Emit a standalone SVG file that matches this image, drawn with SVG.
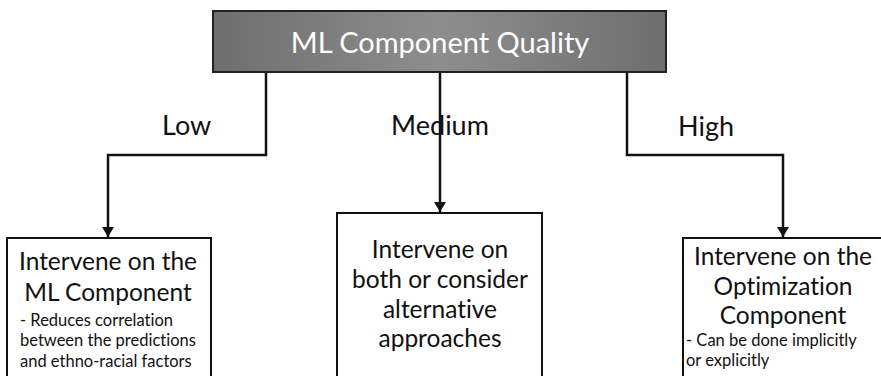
<svg xmlns="http://www.w3.org/2000/svg" width="881" height="376" viewBox="0 0 881 376">
<style>
text{font-family:Lato,"Open Sans","Liberation Sans",sans-serif;fill:#111;font-variant-ligatures:none}
.big{font-size:24.5px;text-anchor:middle}
.lbl{font-size:27px}
.sm{font-size:16.5px}
.box{fill:#fff;stroke:#111;stroke-width:2}
.con{fill:none;stroke:#111;stroke-width:2.5}
</style>
<defs>
<linearGradient id="g" x1="0" x2="1" y1="0" y2="0">
<stop offset="0" stop-color="#6e6e6e"/>
<stop offset="0.5" stop-color="#8e8e8e"/>
<stop offset="1" stop-color="#6e6e6e"/>
</linearGradient>
<marker id="a2" markerWidth="12" markerHeight="11" refX="6" refY="10" orient="0" markerUnits="userSpaceOnUse" viewBox="0 0 12 11">
<path d="M0,0 L12,0 L6,10 Z" fill="#111"/>
</marker>
</defs>
<g id="connectors">
<path class="con" d="M266,72 V155 H108 V237" marker-end="url(#a2)"/>
<path class="con" d="M440,72 V212" marker-end="url(#a2)"/>
<path class="con" d="M627,72 V155 H783 V237" marker-end="url(#a2)"/>
</g>
<g id="top">
<rect x="213" y="11" width="453" height="61" fill="url(#g)" stroke="#222" stroke-width="2"/>
<text x="440" y="53" text-anchor="middle" style="font-size:29px;fill:#fff">ML Component Quality</text>
</g>
<g id="labels">
<text class="lbl" x="162" y="135">Low</text>
<text class="lbl" x="440" y="135" text-anchor="middle">Medium</text>
<text class="lbl" x="678" y="136">High</text>
</g>
<g id="low">
<rect class="box" x="7" y="238" width="204" height="160"/>
<text class="big" x="108" y="270">Intervene on the</text>
<text class="big" x="108" y="301">ML Component</text>
<text class="sm" x="20" y="326">- Reduces correlation</text>
<text class="sm" x="20" y="346">between the predictions</text>
<text class="sm" x="20" y="367">and ethno-racial factors</text>
</g>
<g id="medium">
<rect class="box" x="337" y="213" width="205" height="185"/>
<text class="big" x="440" y="258">Intervene on</text>
<text class="big" x="440" y="288">both or consider</text>
<text class="big" x="440" y="318">alternative</text>
<text class="big" x="440" y="347">approaches</text>
</g>
<g id="high">
<rect class="box" x="683" y="238" width="210" height="160"/>
<text class="big" x="783" y="265">Intervene on the</text>
<text class="big" x="783" y="295">Optimization</text>
<text class="big" x="783" y="324">Component</text>
<text class="sm" x="686" y="346">- Can be done implicitly</text>
<text class="sm" x="686" y="366">or explicitly</text>
</g>
</svg>
